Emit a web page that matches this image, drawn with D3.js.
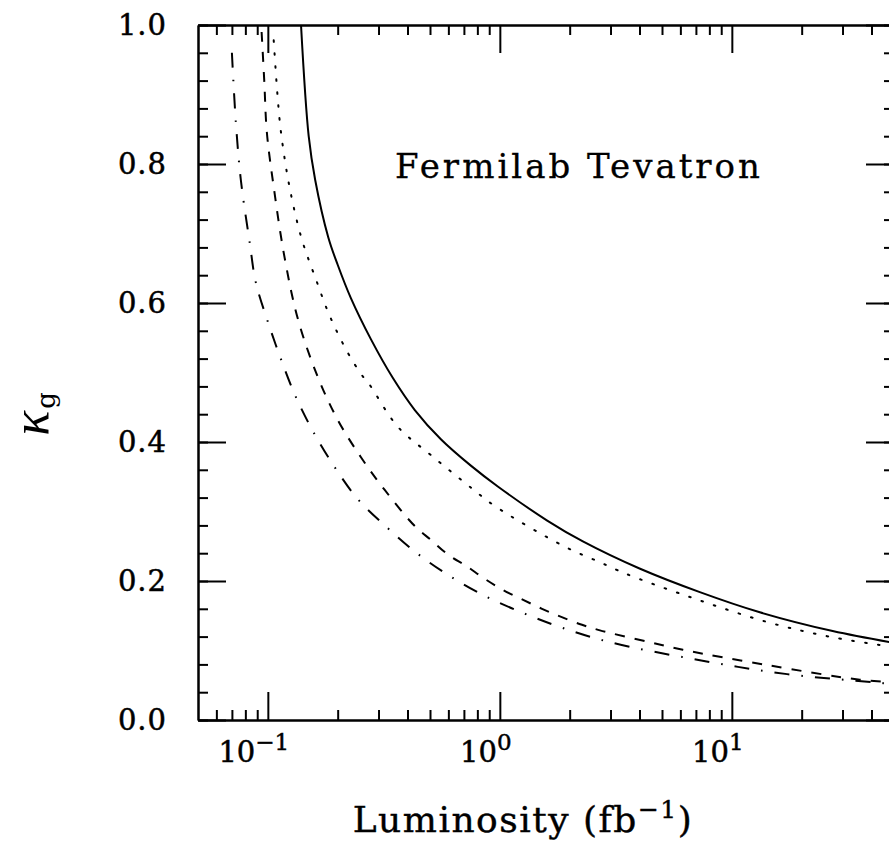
<!DOCTYPE html>
<html>
<head>
<meta charset="utf-8">
<script src="https://cdn.jsdelivr.net/npm/d3@7"></script>
<style>
  body { margin: 0; background: #fff; }
  text { font-family: "DejaVu Serif", serif; fill: #000; }
</style>
</head>
<body>
<svg id="chart" width="889" height="846"></svg>
<script>
// values: [luminosity (fb^-1), kappa_g]
const solid = [
	[0.139, 1.0], [0.150, 0.840], [0.160, 0.777], [0.182, 0.695], [0.200, 0.655],
	[0.228, 0.607], [0.278, 0.548], [0.346, 0.492], [0.43, 0.446], [0.557, 0.404],
	[0.75, 0.366], [0.98, 0.336], [1.6, 0.287], [2.28, 0.257], [4.0, 0.218],
	[7.28, 0.184], [13.2, 0.155], [27.2, 0.128], [50, 0.111]
];
const dotted = [
	[0.106, 0.978], [0.110, 0.90], [0.114, 0.845], [0.124, 0.767], [0.140, 0.692],
	[0.160, 0.637], [0.184, 0.583], [0.219, 0.531], [0.252, 0.498], [0.275, 0.482],
	[0.363, 0.422], [0.505, 0.381], [0.766, 0.332], [0.95, 0.308], [1.89, 0.250],
	[2.70, 0.227], [3.46, 0.211], [6.46, 0.178], [14.2, 0.141], [27.2, 0.119], [50, 0.105]
];
const dashed = [
	[0.094, 0.99], [0.0965, 0.92], [0.099, 0.846], [0.106, 0.767], [0.118, 0.666],
	[0.135, 0.576], [0.164, 0.494], [0.200, 0.432], [0.252, 0.378], [0.319, 0.331],
	[0.43, 0.279], [0.505, 0.259], [0.603, 0.237], [0.714, 0.222], [0.853, 0.204],
	[1.02, 0.188], [1.24, 0.174], [1.52, 0.160], [1.85, 0.148], [2.26, 0.137],
	[2.70, 0.129], [4.43, 0.112], [6.15, 0.101], [14.2, 0.079], [35.6, 0.058], [50, 0.054]
];
const dashdot = [
	[0.070, 0.96], [0.0728, 0.86], [0.0765, 0.777], [0.0836, 0.686], [0.0887, 0.630],
	[0.100, 0.573], [0.114, 0.519], [0.132, 0.465], [0.158, 0.413], [0.194, 0.364],
	[0.244, 0.318], [0.329, 0.276], [0.443, 0.239], [0.616, 0.206], [0.879, 0.177],
	[1.26, 0.154], [1.81, 0.134], [2.98, 0.112], [7.28, 0.086], [17.3, 0.066], [44.8, 0.053], [50, 0.051]
];
const xDecades = [-1, 0, 1];
const xMinor = [0.06, 0.07, 0.08, 0.09, 0.2, 0.3, 0.4, 0.5, 0.6, 0.7, 0.8, 0.9,
	2, 3, 4, 5, 6, 7, 8, 9, 20, 30, 40];
const yMajor = [0, 0.2, 0.4, 0.6, 0.8, 1.0];
const yMinor = d3.range(0, 1.0001, 0.04);

const ctx = { left: 198, top: 25, right: 894, bottom: 720 };

const svg = d3.select("#chart");

const xscale = d3.scaleLog().domain([0.05, 50]).range([ctx.left, ctx.right]);
const yscale = d3.scaleLinear().domain([0, 1]).range([ctx.bottom, ctx.top]);

// axes on all four sides, ticks pointing inwards
function addAxis(axis, tx, ty) {
	let g = svg.append("g")
		.attr("transform", "translate(" + tx + "," + ty + ")")
		.call(axis);
	g.selectAll("text").remove();
	g.selectAll("path, line").attr("stroke", "#000").attr("stroke-width", 2);
	return g;
}
const major = 28, minor = 10;
const decadeVals = xDecades.map(d => Math.pow(10, d));
addAxis(d3.axisBottom(xscale).tickValues(decadeVals).tickSizeInner(-major).tickSizeOuter(0), 0, ctx.bottom);
addAxis(d3.axisBottom(xscale).tickValues(xMinor).tickSizeInner(-minor).tickSizeOuter(0), 0, ctx.bottom);
addAxis(d3.axisTop(xscale).tickValues(decadeVals).tickSizeInner(-major).tickSizeOuter(0), 0, ctx.top);
addAxis(d3.axisTop(xscale).tickValues(xMinor).tickSizeInner(-minor).tickSizeOuter(0), 0, ctx.top);
addAxis(d3.axisLeft(yscale).tickValues(yMajor).tickSizeInner(-major).tickSizeOuter(0), ctx.left, 0);
addAxis(d3.axisLeft(yscale).tickValues(yMinor).tickSizeInner(-minor).tickSizeOuter(0), ctx.left, 0);
addAxis(d3.axisRight(yscale).tickValues(yMajor).tickSizeInner(-major).tickSizeOuter(0), ctx.right, 0);
addAxis(d3.axisRight(yscale).tickValues(yMinor).tickSizeInner(-minor).tickSizeOuter(0), ctx.right, 0);

// y tick labels
svg.append("g").selectAll("text")
	.data(yMajor)
	.join("text")
	.attr("x", 167)
	.attr("y", d => yscale(d) + 10)
	.attr("text-anchor", "end")
	.attr("stroke", "#000").attr("stroke-width", 0.5)
	.style("font-size", "29px")
	.style("letter-spacing", "1px")
	.text(d => d.toFixed(1));

// x tick labels 10^n
let xl = svg.append("g").selectAll("text")
	.data(xDecades)
	.join("text")
	.attr("x", d => xscale(Math.pow(10, d)) - 14)
	.attr("y", 762)
	.attr("text-anchor", "middle")
	.attr("stroke", "#000").attr("stroke-width", 0.5)
	.style("font-size", "29px");
xl.append("tspan").text("10");
xl.append("tspan").attr("dy", -12).style("font-size", "23px")
	.text(d => (d < 0 ? "\u2212" : "") + Math.abs(d));

// axis titles
let xt = svg.append("text")
	.attr("x", 523)
	.attr("y", 832)
	.attr("text-anchor", "middle")
	.attr("stroke", "#000").attr("stroke-width", 0.4)
	.style("font-size", "36px")
	.style("letter-spacing", "1.5px");
xt.append("tspan").text("Luminosity (fb");
xt.append("tspan").attr("dy", -14).style("font-size", "25px").text("\u22121");
xt.append("tspan").attr("dy", 14).text(")");

let yt = svg.append("text")
	.attr("transform", "translate(48,414) rotate(-90)")
	.attr("text-anchor", "middle");
yt.append("tspan")
	.style("font-family", "'Liberation Serif', serif")
	.style("font-size", "52px").style("font-style", "italic").text("\u03ba");
yt.append("tspan").attr("dy", 7).attr("dx", 2).style("font-size", "26px").text("g");

svg.append("text")
	.attr("x", 395)
	.attr("y", 178)
	.style("font-size", "34px")
	.attr("stroke", "#000").attr("stroke-width", 0.3)
	.attr("textLength", 365)
	.text("Fermilab Tevatron");

// curves
const line = d3.line()
	.x(d => xscale(d[0]))
	.y(d => yscale(d[1]))
	.curve(d3.curveCatmullRom.alpha(0.5));

const series = [
	{ data: solid, dash: null },
	{ data: dotted, dash: "1.6,11.4", cap: "round" },
	{ data: dashed, dash: "10,10" },
	{ data: dashdot, dash: "15,12,1.6,12" }
];
const plot = svg.append("g");
plot.append("clipPath").attr("id", "clip")
	.append("rect")
	.attr("x", ctx.left).attr("y", ctx.top)
	.attr("width", ctx.right - ctx.left).attr("height", ctx.bottom - ctx.top);
plot.attr("clip-path", "url(#clip)");
series.forEach(s => {
	plot.append("path")
		.datum(s.data)
		.attr("d", line)
		.attr("fill", "none")
		.attr("stroke", "#000")
		.attr("stroke-width", 2)
		.attr("stroke-dasharray", s.dash)
		.attr("stroke-linecap", s.cap || "butt");
});
</script>
</body>
</html>
